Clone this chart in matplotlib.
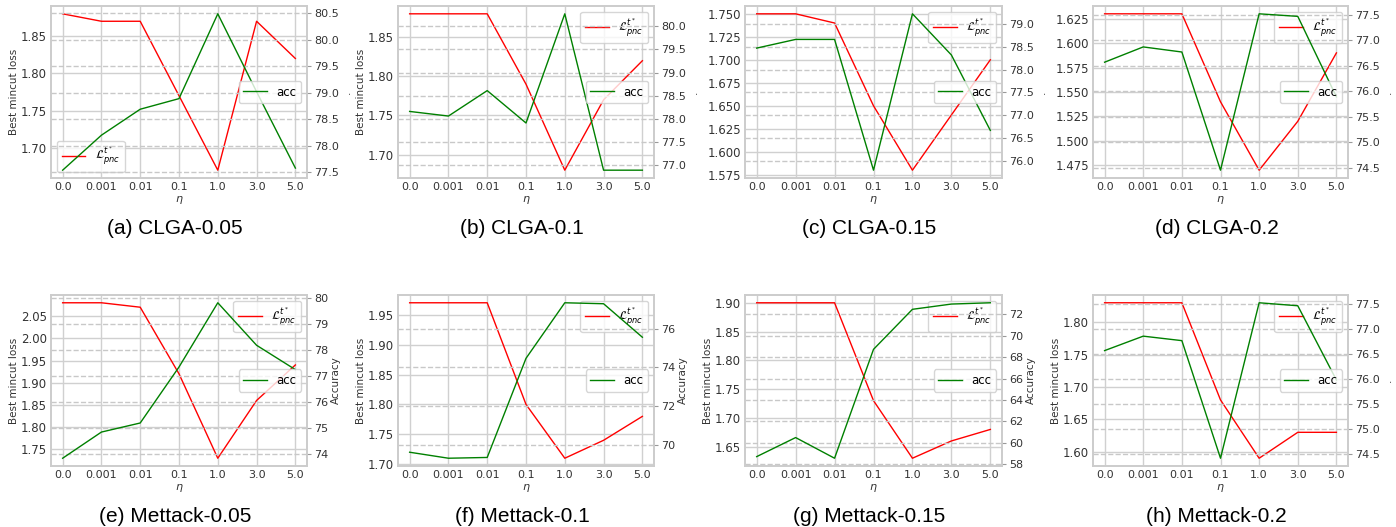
import matplotlib.pyplot as plt
import numpy as np

etas = ['0.0', '0.001', '0.01', '0.1', '1.0', '3.0', '5.0']

captions = ['(a) CLGA-0.05', '(b) CLGA-0.1', '(c) CLGA-0.15', '(d) CLGA-0.2',
            '(e) Mettack-0.05', '(f) Mettack-0.1', '(g) Mettack-0.15', '(h) Mettack-0.2']

loss_a = [1.88, 1.87, 1.87, 1.77, 1.67, 1.87, 1.82]
acc_a = [77.54, 78.20, 78.69, 78.89, 80.49, 79.02, 77.58]
loss_b = [1.88, 1.88, 1.88, 1.79, 1.68, 1.77, 1.82]
acc_b = [78.16, 78.06, 78.61, 77.91, 80.27, 76.89, 76.89]
loss_c = [1.75, 1.75, 1.74, 1.65, 1.58, 1.64, 1.70]
acc_c = [78.47, 78.66, 78.66, 75.80, 79.22, 78.32, 76.67]
loss_d = [1.63, 1.63, 1.63, 1.54, 1.47, 1.52, 1.59]
acc_d = [76.57, 76.87, 76.77, 74.45, 77.52, 77.47, 75.89]
loss_e = [2.08, 2.08, 2.07, 1.92, 1.73, 1.86, 1.94]
acc_e = [73.83, 74.84, 75.19, 77.35, 79.83, 78.19, 77.25]
loss_f = [1.97, 1.97, 1.97, 1.80, 1.71, 1.74, 1.78]
acc_f = [69.62, 69.31, 69.35, 74.47, 77.34, 77.29, 75.56]
loss_g = [1.90, 1.90, 1.90, 1.73, 1.63, 1.66, 1.68]
acc_g = [58.71, 60.49, 58.56, 68.73, 72.47, 72.96, 73.08]
loss_h = [1.83, 1.83, 1.83, 1.68, 1.59, 1.63, 1.63]
acc_h = [76.57, 76.86, 76.77, 74.41, 77.53, 77.47, 75.98]

losses = [loss_a, loss_b, loss_c, loss_d, loss_e, loss_f, loss_g, loss_h]
accs = [acc_a, acc_b, acc_c, acc_d, acc_e, acc_f, acc_g, acc_h]

# tick steps as in the figure
loss_steps = [0.05, 0.05, 0.025, 0.025, 0.05, 0.05, 0.05, 0.05]
acc_steps = [0.5, 0.5, 0.5, 0.5, 1, 2, 2, 0.5]

# panel layout in pixels (left, top, width, height)
W, H = 1396, 527
lefts = [51, 398, 745, 1093]
widths = [256, 256, 257, 255]
tops = [6, 295]
heights = [172, 171]
cap_y = [228, 517]

left_labels = ['Best mincut loss'] * 2 + [''] * 2 + ['Best mincut loss'] * 4
right_labels = ['.', '.', '.', '.', 'Accuracy', 'Accuracy', 'Accuracy', '.']
loss_legend_loc = ['lower left'] + ['upper right'] * 7

plt.rcParams['font.family'] = 'DejaVu Sans'
fig = plt.figure(figsize=(W / 100, H / 100), dpi=100)

x = np.arange(len(etas))
for i in range(8):
    r, c = divmod(i, 4)
    ax = fig.add_axes([lefts[c] / W, (H - tops[r] - heights[r]) / H,
                       widths[c] / W, heights[r] / H])
    ax.grid(True, color='#d0d0d0', linewidth=1.0)
    ax.set_axisbelow(True)
    l1, = ax.plot(x, losses[i], color='red', linewidth=1.0, label=r'$\mathcal{L}_{pnc}^{t^*}$')
    ax.set_xticks(x)
    ax.set_xticklabels(etas)
    ax.yaxis.set_major_locator(plt.MultipleLocator(loss_steps[i]))
    ax.set_xlabel(r'$\eta$', fontsize=8, color='#333333', labelpad=1)
    ax.set_ylabel(left_labels[i], fontsize=7.5, color='#333333', labelpad=1)
    ax.tick_params(axis='x', length=0, labelsize=8, labelcolor='#333333', pad=3)
    ax.tick_params(axis='y', length=0, labelsize=8.5, labelcolor='#333333', pad=3)
    for s in ax.spines.values():
        s.set_color('#cccccc')
        s.set_linewidth(1.2)
    ax.legend(handles=[l1], loc=loss_legend_loc[i], fontsize=8.5, framealpha=0.8,
              edgecolor='#cccccc')

    ax2 = ax.twinx()
    l2, = ax2.plot(x, accs[i], color='green', linewidth=1.0, label='acc')
    ax2.yaxis.set_major_locator(plt.MultipleLocator(acc_steps[i]))
    ax2.grid(True, linestyle='--', color='#c8c8c8', linewidth=1.0)
    ax2.set_ylabel(right_labels[i], fontsize=7.5, color='#333333', labelpad=2)
    ax2.tick_params(axis='y', length=3, color='#999999', labelsize=8, labelcolor='#333333', pad=2)
    for s in ax2.spines.values():
        s.set_color('#cccccc')
        s.set_linewidth(1.2)
    ax2.legend(handles=[l2], loc='center right', fontsize=8.5, framealpha=0.8,
               edgecolor='#cccccc')

    cx = (lefts[c] + widths[c] / 2 - 4) / W
    fig.text(cx, (H - cap_y[r]) / H, captions[i], ha='center', va='center',
             fontsize=15, family='Liberation Sans')

fig.savefig('out.png', dpi=100)
